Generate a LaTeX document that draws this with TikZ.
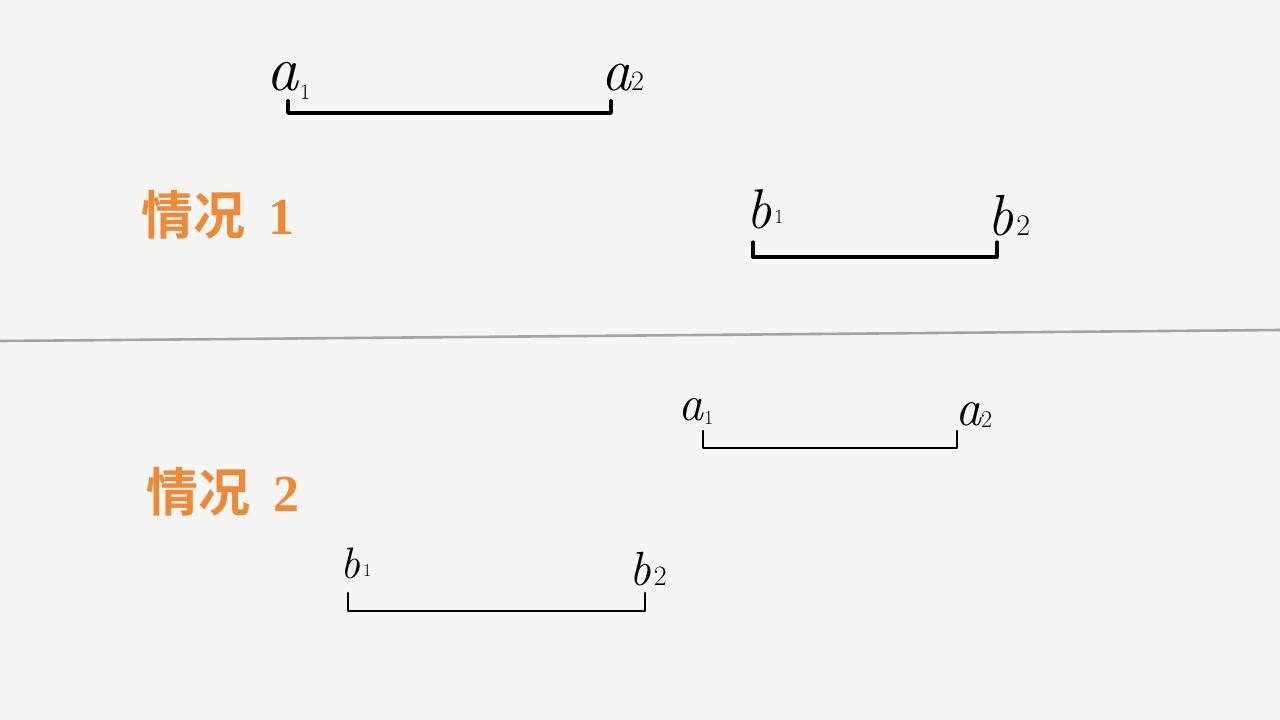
\documentclass[tikz,border=0pt]{standalone}
\usepackage{fontspec}
\newfontfamily\cjk{Noto Sans CJK SC}[BoldFont={Noto Sans CJK SC Bold}]
\newfontfamily\digitfont{Liberation Serif}
\definecolor{paper}{HTML}{F5F5F3}
\definecolor{orangetxt}{HTML}{EE8A35}
\definecolor{sepgray}{HTML}{A4A4A4}
% letter, digit, letter size, digit size, digit drop (pt), kern
\newcommand{\hlabel}[6]{{\fontsize{#3}{#3}\selectfont\itshape #1}\kern#6pt\raisebox{-#5pt}{\fontsize{#4}{#4}\selectfont #2}}
\begin{document}
\begin{tikzpicture}[x=1pt,y=-1pt,
  seg/.style={line width=2.6pt,line cap=round,line join=round,black},
  lbl/.style={inner sep=0pt,anchor=base west},
  title/.style={inner sep=0pt,text=orangetxt,font=\cjk\bfseries\fontsize{52}{56}\selectfont}]
\fill[paper] (0,0) rectangle (1280,720);
\useasboundingbox (0,0) rectangle (1280,720);
% separator
\coordinate (sepL) at (0,341);
\coordinate (sepR) at (1280,330);
\draw[sepgray,line width=2.6pt] (sepL) -- (sepR);
% titles
\node[title] (t1) at (218,215) {情况\hspace{0.45em}{\digitfont\bfseries 1}};
\node[title] (t2) at (223,492) {情况\hspace{0.45em}{\digitfont\bfseries 2}};
% case 1: a segment
\coordinate (a1top) at (288,101);
\coordinate (a1bot) at (288,113);
\coordinate (a2bot) at (611,113);
\coordinate (a2top) at (611,101);
\draw[seg,line width=3.8pt] (a1top) -- (a1bot) -- (a2bot) -- (a2top);
\node[lbl] (la1) at (266,90) {\hlabel{a}{1}{64}{22}{9}{2}};
\node[lbl] (la2) at (601,90) {\hlabel{a}{2}{60}{28}{0}{0}};
% case 1: b segment
\coordinate (b1top) at (753,242);
\coordinate (b1bot) at (753,257);
\coordinate (b2bot) at (997,257);
\coordinate (b2top) at (997,242);
\draw[seg,line width=3.2pt] (b1top) -- (b1bot) -- (b2bot) -- (b2top);
\node[lbl] (lb1) at (746,228) {\hlabel{b}{1}{56}{20}{-5}{3}};
\node[lbl] (lb2) at (987,235) {\hlabel{b}{2}{58}{30}{0}{3}};
% case 2: a segment
\coordinate (c1top) at (703,431);
\coordinate (c1bot) at (703,448);
\coordinate (c2bot) at (957,448);
\coordinate (c2top) at (957,431);
\draw[seg] (c1top) -- (c1bot) -- (c2bot) -- (c2top);
\node[lbl] (lc1) at (678,420) {\hlabel{a}{1}{50}{20}{4}{1}};
\node[lbl] (lc2) at (955,425) {\hlabel{a}{2}{52}{24}{2}{0}};
% case 2: b segment
\coordinate (d1top) at (348,593);
\coordinate (d1bot) at (348,611);
\coordinate (d2bot) at (645,611);
\coordinate (d2top) at (645,593);
\draw[seg] (d1top) -- (d1bot) -- (d2bot) -- (d2top);
\node[lbl] (ld1) at (340,578) {\hlabel{b}{1}{44}{18}{-2}{3}};
\node[lbl] (ld2) at (629,585) {\hlabel{b}{2}{48}{28}{0}{3}};
\end{tikzpicture}
\end{document}
